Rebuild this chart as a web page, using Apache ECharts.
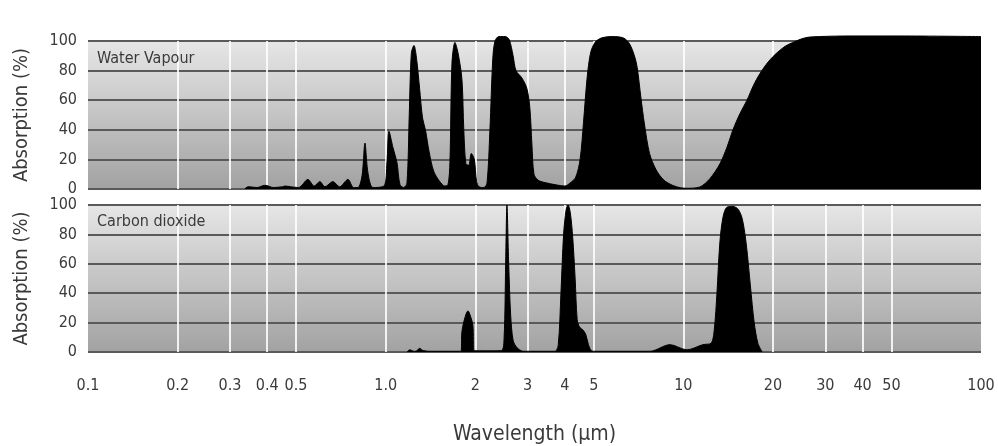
<!DOCTYPE html>
<html>
<head>
<meta charset="utf-8">
<script src="https://cdn.jsdelivr.net/npm/echarts@6/dist/echarts.min.js"></script>
<style>
  html, body { margin: 0; padding: 0; background: #fff; }
  #chart { width: 998px; height: 446px; }
</style>
</head>
<body>
<div id="chart"></div>
<script>
// wavelength (µm), absorption (%)
const waterVapour = [
  [0.336, 0], [0.345, 1.5], [0.37, 1], [0.393, 2.5], [0.42, 1], [0.45, 1.5], [0.459, 2],
  [0.48, 1.5], [0.51, 1], [0.548, 6.5], [0.575, 2], [0.601, 5], [0.625, 1.5], [0.665, 5],
  [0.70, 1.5], [0.747, 6.5], [0.78, 1], [0.807, 1], [0.833, 9], [0.852, 31], [0.872, 11],
  [0.906, 1], [0.987, 2], [1.01, 18], [1.026, 39], [1.058, 28], [1.091, 18], [1.117, 3],
  [1.15, 1], [1.179, 4], [1.20, 50], [1.22, 92], [1.245, 97], [1.27, 88], [1.30, 68],
  [1.33, 48], [1.36, 40], [1.40, 25], [1.45, 12], [1.52, 5], [1.58, 2], [1.62, 3],
  [1.644, 18], [1.67, 85], [1.709, 99], [1.75, 92], [1.804, 74], [1.83, 40], [1.86, 17],
  [1.90, 16], [1.94, 24], [1.985, 20], [2.02, 5], [2.06, 1.5], [2.139, 1], [2.19, 4],
  [2.24, 40], [2.29, 88], [2.33, 100], [2.40, 103], [2.52, 103], [2.60, 101], [2.68, 90],
  [2.74, 80], [2.87, 75], [2.98, 68], [3.05, 55], [3.10, 30], [3.15, 10], [3.25, 6],
  [3.40, 4.5], [3.76, 2.7], [4.0, 2], [4.16, 4], [4.35, 8], [4.50, 20], [4.62, 45],
  [4.75, 75], [4.88, 92], [5.05, 99], [5.3, 102], [5.8, 103], [6.3, 102], [6.6, 98],
  [6.85, 90], [7.0, 82], [7.2, 62], [7.4, 44], [7.7, 24], [8.1, 13], [8.6, 6], [9.2, 2.5],
  [9.8, 0.8], [10.3, 0.5], [11.37, 1.4], [12.28, 7], [13.27, 17], [14.0, 28], [14.68, 40],
  [15.5, 51], [16.36, 60], [17.2, 70], [18.09, 78], [19.3, 86], [20.63, 92], [22.0, 96.5],
  [23.34, 99], [25.0, 101.5], [26.63, 102.7], [36.27, 103.4], [53.41, 103.4], [100, 103]
];

const carbonDioxide = [
  [1.179, 0], [1.207, 1.5], [1.24, 0.5], [1.264, 0.5], [1.3, 2.5], [1.334, 1], [1.409, 0.5],
  [1.79, 0.5], [1.804, 14], [1.85, 24], [1.89, 28], [1.93, 24], [1.964, 18], [1.98, 1],
  [2.2, 0.8], [2.45, 1], [2.50, 10], [2.53, 60], [2.555, 100], [2.59, 60], [2.63, 25],
  [2.68, 8], [2.76, 3], [2.9, 0.5], [3.70, 0.5], [3.80, 5], [3.88, 40], [3.96, 80],
  [4.04, 97], [4.10, 100], [4.17, 95], [4.25, 78], [4.33, 50], [4.40, 22], [4.48, 17],
  [4.6, 15], [4.7, 12], [4.8, 5], [4.9, 1], [5.0, 0.5], [7.722, 0.5], [9.016, 5],
  [10.28, 1.5], [11.63, 5], [12.4, 6], [12.7, 15], [12.97, 40], [13.27, 75], [13.6, 92],
  [14.01, 98.5], [14.68, 99], [15.3, 97], [15.8, 90], [16.3, 72], [16.8, 45], [17.3, 20],
  [17.8, 6], [18.4, 0]
];

const panelNames = ["Water Vapour", "Carbon dioxide"]
const wavelengthTicks = [0.1, 0.2, 0.3, 0.4, 0.5, 1, 2, 3, 4, 5, 10, 20, 30, 40, 50, 100]
const wavelengthLabels = ["0.1", "0.2", "0.3", "0.4", "0.5", "1.0", "2", "3", "4", "5", "10", "20", "30", "40", "50", "100"]
const gridWavelengths = [0.2, 0.3, 0.4, 0.5, 1, 2, 3, 4, 5, 10, 20, 30, 40, 50]

const FONT = "'DejaVu Sans Condensed', 'Liberation Sans Narrow', sans-serif"
const TEXT = "#3a3a3a"

const chart = echarts.init(document.getElementById("chart"))

const panelBg = {
  type: "linear", x: 0, y: 0, x2: 0, y2: 1,
  colorStops: [
    { offset: 0, color: "#e6e6e6" },
    { offset: 1, color: "#a2a2a2" },
  ],
}

const makeX = (idx, showLabels) => ({
  type: "log",
  logBase: 10,
  gridIndex: idx,
  min: 0.1,
  max: 100,
  axisLine: { show: false },
  axisTick: { show: false },
  splitLine: { show: false },
  axisLabel: showLabels ? {
    customValues: wavelengthTicks,
    formatter: (v) => {
      const i = wavelengthTicks.findIndex((t) => Math.abs(t - v) < 1e-6 * t)
      return i >= 0 ? wavelengthLabels[i] : ""
    },
    color: TEXT,
    fontFamily: FONT,
    fontSize: 16,
    margin: 26,
  } : { show: false },
  name: showLabels ? "Wavelength (μm)" : "",
  nameLocation: "middle",
  nameGap: 72,
  nameTextStyle: { color: TEXT, fontFamily: FONT, fontSize: 21 },
})

const makeY = (idx) => ({
  type: "value",
  gridIndex: idx,
  min: 0,
  max: 100,
  interval: 20,
  axisLine: { show: false },
  axisTick: { show: false },
  axisLabel: { color: TEXT, fontFamily: FONT, fontSize: 16, margin: 11 },
  splitLine: { lineStyle: { color: "#5a5a5a", width: 2 } },
  name: "Absorption (%)",
  nameLocation: "middle",
  nameRotate: 90,
  nameGap: 56,
  nameTextStyle: { color: TEXT, fontFamily: FONT, fontSize: 20 },
})

// white vertical grid lines, kept behind the filled absorption areas
const lineMarks = (idx, data) => ({
  type: "line",
  xAxisIndex: idx,
  yAxisIndex: idx,
  data: data,
  z: 1,
  silent: true,
  showSymbol: false,
  lineStyle: { opacity: 0 },
  markLine: {
    z: 1,
    silent: true,
    symbol: "none",
    label: { show: false },
    lineStyle: { color: "rgba(255,255,255,0.85)", width: 2, type: "solid" },
    data: gridWavelengths.map((w) => ({ xAxis: w })),
  },
})

const absorption = (idx, data) => ({
  type: "line",
  name: panelNames[idx],
  xAxisIndex: idx,
  yAxisIndex: idx,
  data: data,
  zlevel: 1,
  z: 3,
  clip: false,
  smooth: 0.3,
  showSymbol: false,
  lineStyle: { color: "#000", width: 1 },
  areaStyle: { color: "#000", opacity: 1 },
})

chart.setOption({
  animation: false,
  title: panelNames.map((name, i) => ({
    text: name,
    left: 92,
    top: i === 0 ? 46 : 209,
    textStyle: { color: TEXT, fontFamily: FONT, fontSize: 16, fontWeight: "normal" },
  })),
  grid: [
    { left: 88, right: 17, top: 41, height: 148, show: true, borderWidth: 0, backgroundColor: panelBg },
    { left: 88, right: 17, top: 205, height: 149, show: true, borderWidth: 0, backgroundColor: panelBg },
  ],
  xAxis: [makeX(0, false), makeX(1, true)],
  yAxis: [makeY(0), makeY(1)],
  series: [
    lineMarks(0, waterVapour),
    lineMarks(1, carbonDioxide),
    absorption(0, waterVapour),
    absorption(1, carbonDioxide),
  ],
})
</script>
</body>
</html>
